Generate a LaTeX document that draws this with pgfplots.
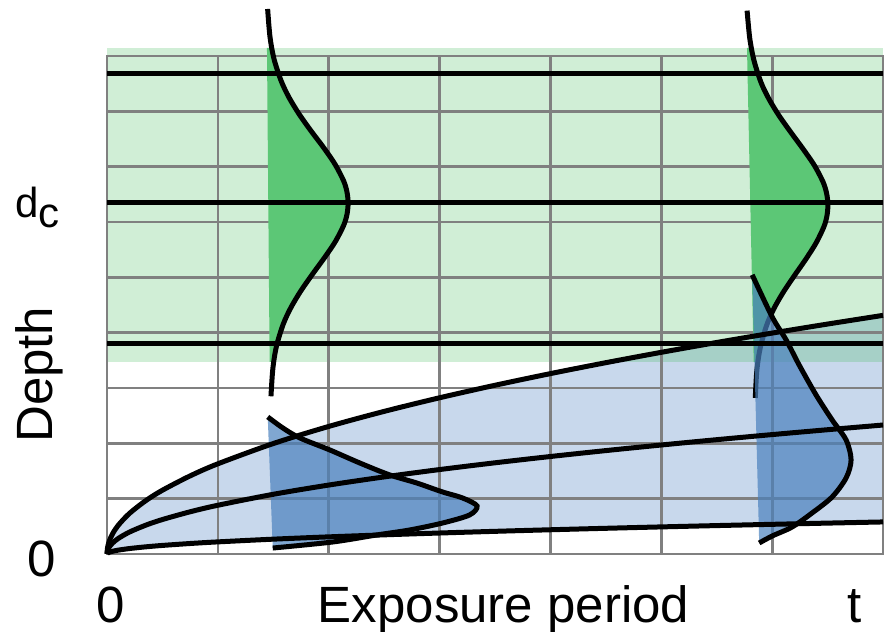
\documentclass[border=0pt]{standalone}
\usepackage{fontspec}
\setmainfont{Liberation Sans}
\usepackage{pgfplots}
\pgfplotsset{compat=1.18}
\definecolor{gridgray}{RGB}{128,128,128}
\definecolor{bandgreen}{RGB}{68,188,92}
\definecolor{distgreen}{RGB}{92,199,118}
\definecolor{regionblue}{RGB}{200,216,236}
\definecolor{distblue}{RGB}{74,129,189}
\begin{document}
\begin{tikzpicture}
\begin{axis}[
  set layers=standard,
  scale only axis, width=776pt, height=498pt,
  xmin=0, xmax=7, ymin=0, ymax=9,
  xtick={0,...,7}, ytick={0,...,9},
  xticklabels={,,}, yticklabels={,,},
  major tick length=0pt,
  grid=major,
  grid style={gridgray, line width=2.7pt},
  axis line style={gridgray, line width=2.7pt},
  clip=false,
]
% background: region between the outer curves
\addplot[on layer=axis background, draw=none, fill=regionblue] coordinates {
(0,0) (0.005,0.1153) (0.02,0.2305) (0.05,0.3645) (0.1,0.5154) (0.2,0.7289) (0.35,0.9643) (0.5,1.1526) (0.75,1.4116) (1,1.63) (1.5,1.9963) (2,2.3052) (2.5,2.5772) (3,2.8233) (3.5,3.0494) (4,3.26) (4.5,3.4577) (5,3.6448) (5.5,3.8227) (6,3.9927) (6.5,4.1557) (7,4.3127)
(7,0.5794) (6.5,0.5583) (6,0.5364) (5.5,0.5136) (5,0.4897) (4.5,0.4646) (4,0.438) (3.5,0.4097) (3,0.3793) (2.5,0.3463) (2,0.3097) (1.5,0.2682) (1,0.219) (0.75,0.1897) (0.5,0.1549) (0.35,0.1296) (0.2,0.0979) (0.1,0.0692) (0.05,0.049) (0.02,0.031) (0.005,0.0155) (0,0)};
% background: green band
\addplot[on layer=axis background, draw=none, fill=bandgreen, fill opacity=0.25] coordinates {(0,3.47) (7,3.47) (7,9.145) (0,9.145)};

% green distributions (fill clipped to band)
\addplot[draw=none, fill=distgreen] coordinates {
(1.443,9.145) (1.4855,9.145) (1.506,8.95) (1.571,8.55) (1.642,8.25) (1.733,7.95) (1.839,7.65) (1.952,7.35) (2.055,7.05) (2.133,6.75) (2.164,6.55) (2.175,6.35) (2.166,6.15) (2.137,5.95) (2.061,5.65) (1.960,5.35) (1.851,5.05) (1.747,4.75) (1.658,4.45) (1.589,4.15) (1.528,3.75) (1.503,3.47) (1.467,3.47)};
\addplot[draw=none, fill=distgreen] coordinates {
(5.773,9.145) (5.812,9.145) (5.836,8.92) (5.900,8.52) (5.972,8.22) (6.063,7.92) (6.169,7.62) (6.279,7.32) (6.382,7.02) (6.460,6.72) (6.491,6.52) (6.503,6.32) (6.495,6.12) (6.468,5.92) (6.396,5.62) (6.301,5.32) (6.197,5.02) (6.097,4.72) (6.012,4.42) (5.948,4.12) (5.892,3.72) (5.870,3.47) (5.8335,3.47)};
\addplot[black, line width=5pt, smooth] coordinates {
(1.449,9.85) (1.470,9.35) (1.506,8.95) (1.571,8.55) (1.642,8.25) (1.733,7.95) (1.839,7.65) (1.952,7.35) (2.055,7.05) (2.133,6.75) (2.164,6.55) (2.175,6.35) (2.166,6.15) (2.137,5.95) (2.061,5.65) (1.960,5.35) (1.851,5.05) (1.747,4.75) (1.658,4.45) (1.589,4.15) (1.528,3.75) (1.496,3.35) (1.479,2.85)};
\addplot[black, line width=5pt, smooth] coordinates {
(5.774,9.82) (5.798,9.32) (5.836,8.92) (5.900,8.52) (5.972,8.22) (6.063,7.92) (6.169,7.62) (6.279,7.32) (6.382,7.02) (6.460,6.72) (6.491,6.52) (6.503,6.32) (6.495,6.12) (6.468,5.92) (6.396,5.62) (6.301,5.32) (6.197,5.02) (6.097,4.72) (6.012,4.42) (5.948,4.12) (5.892,3.72) (5.862,3.32) (5.848,2.82)};

% blue distributions (fill)
\addplot[draw=none, fill=distblue, fill opacity=0.7, smooth] coordinates {
(1.450,2.477) (1.586,2.278) (1.739,2.098) (2.009,1.881) (2.279,1.646) (2.550,1.429) (2.793,1.284) (3.027,1.121) (3.207,1.013) (3.338,0.868) (3.270,0.705) (3.027,0.560) (2.730,0.434) (2.432,0.344) (2.036,0.217) (1.495,0.108)};
\addplot[draw=none, fill=distblue, fill opacity=0.7, smooth] coordinates {
(5.820,5.045) (6.000,4.286) (6.126,3.870) (6.243,3.418) (6.396,2.875) (6.541,2.423) (6.667,2.061) (6.712,1.700) (6.667,1.374) (6.541,1.031) (6.360,0.741) (6.180,0.488) (6.000,0.325) (5.883,0.199)};

% horizontal black lines
\addplot[black, line width=5pt] coordinates {(0,8.675) (7,8.675)};
\addplot[black, line width=5pt] coordinates {(0,6.344) (7,6.344)};
\addplot[black, line width=5pt] coordinates {(0,3.813) (7,3.813)};

% square-root curves
\addplot[black, line width=5pt, smooth] coordinates {
(0,0) (0.005,0.1153) (0.02,0.2305) (0.05,0.3645) (0.1,0.5154) (0.2,0.7289) (0.35,0.9643) (0.5,1.1526) (0.75,1.4116) (1,1.63) (1.5,1.9963) (2,2.3052) (2.5,2.5772) (3,2.8233) (3.5,3.0494) (4,3.26) (4.5,3.4577) (5,3.6448) (5.5,3.8227) (6,3.9927) (6.5,4.1557) (7,4.3127)};
\addplot[black, line width=5pt, smooth] coordinates {
(0,0) (0.005,0.0623) (0.02,0.1246) (0.05,0.197) (0.1,0.2786) (0.2,0.394) (0.35,0.5212) (0.5,0.623) (0.75,0.7629) (1,0.881) (1.5,1.079) (2,1.2459) (2.5,1.393) (3,1.526) (3.5,1.6482) (4,1.762) (4.5,1.8689) (5,1.97) (5.5,2.0661) (6,2.158) (6.5,2.2461) (7,2.3309)};
\addplot[black, line width=5pt, smooth] coordinates {
(0,0) (0.005,0.0155) (0.02,0.031) (0.05,0.049) (0.1,0.0692) (0.2,0.0979) (0.35,0.1296) (0.5,0.1549) (0.75,0.1897) (1,0.219) (1.5,0.2682) (2,0.3097) (2.5,0.3463) (3,0.3793) (3.5,0.4097) (4,0.438) (4.5,0.4646) (5,0.4897) (5.5,0.5136) (6,0.5364) (6.5,0.5583) (7,0.5794)};

% blue distribution outlines
\addplot[black, line width=5pt, smooth] coordinates {
(1.450,2.477) (1.586,2.278) (1.739,2.098) (2.009,1.881) (2.279,1.646) (2.550,1.429) (2.793,1.284) (3.027,1.121) (3.207,1.013) (3.338,0.868) (3.270,0.705) (3.027,0.560) (2.730,0.434) (2.432,0.344) (2.036,0.217) (1.495,0.108)};
\addplot[black, line width=5pt, smooth] coordinates {
(5.820,5.045) (6.000,4.286) (6.126,3.870) (6.243,3.418) (6.396,2.875) (6.541,2.423) (6.667,2.061) (6.712,1.700) (6.667,1.374) (6.541,1.031) (6.360,0.741) (6.180,0.488) (6.000,0.325) (5.883,0.199)};

% labels
\node[anchor=base, inner sep=0pt, font=\fontsize{51}{61}\selectfont] at (axis cs:0.032,-1.229) {0};
\node[anchor=base, inner sep=0pt, font=\fontsize{51}{61}\selectfont] at (axis cs:3.577,-1.229) {Exposure period};
\node[anchor=base, inner sep=0pt, font=\fontsize{51}{61}\selectfont] at (axis cs:6.747,-1.229) {t};
\node[anchor=base, inner sep=0pt, font=\fontsize{51}{61}\selectfont] at (axis cs:-0.586,-0.398) {0};
\node[anchor=base west, inner sep=0pt, font=\fontsize{42}{50}\selectfont] at (axis cs:-0.83,6.09) {d\raisebox{-10pt}{c}};
\node[rotate=90, anchor=center, inner sep=0pt, font=\fontsize{51}{61}\selectfont] at (axis cs:-0.614,3.24) {Depth};
\end{axis}
\pgfresetboundingbox
\path (current axis.south west) ++(-107pt,-77pt) rectangle ([shift={(4pt,56pt)}]current axis.north east);
\end{tikzpicture}
\end{document}
